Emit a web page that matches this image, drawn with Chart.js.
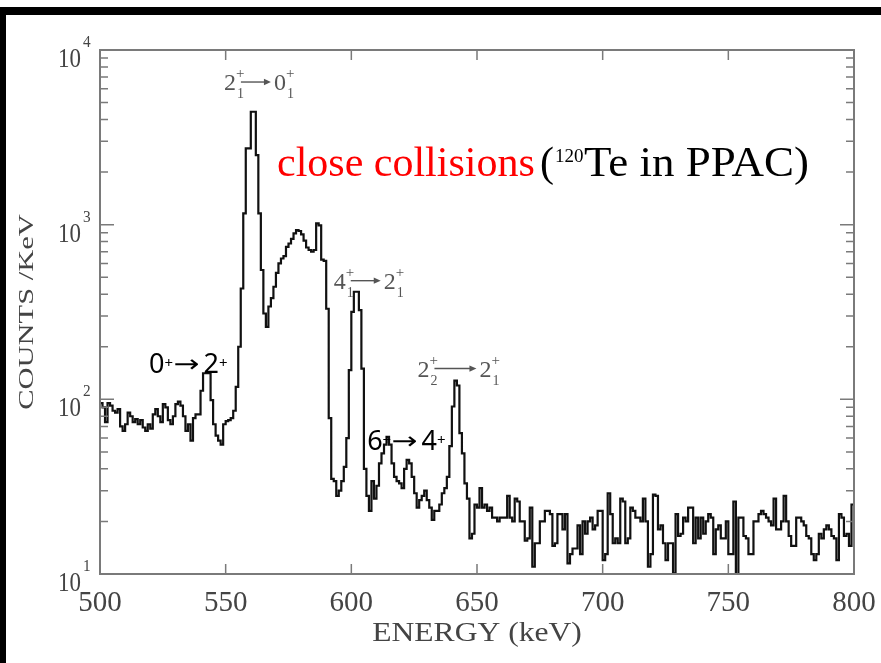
<!DOCTYPE html>
<html><head><meta charset="utf-8">
<script src="https://cdn.jsdelivr.net/npm/chart.js@4.4.1/dist/chart.umd.min.js"></script>
<style>html,body{margin:0;padding:0;background:#fff;} canvas{display:block;}</style>
</head><body>
<canvas id="c" width="881" height="663"></canvas>
<script>
// ---- data ----
const energyStart = 500;   // keV, left edge of first bin
const binWidth = 1;        // keV
const counts = [
  95,90,74,95,92,86,84,88,70,66,
  72,84,80,74,77,72,76,69,66,72,
  68,82,88,80,74,94,90,76,72,80,
  94,97,92,80,66,72,58,78,82,82,
  112,141,141,141,99,72,62,58,55,72,
  75,76,78,86,118,200,431,1160,2735,2735,
  4430,4430,2500,1160,550,310,260,340,380,441,
  530,600,640,660,747,780,830,891,931,920,
  880,810,740,716,700,716,1016,990,630,620,
  330,78,35,34,28,30,34,41,60,147,
  317,413,413,324,150,40,28,23,34,27,
  32,43,49,55,61,55,43,36,34,33,
  31,40,45,43,36,29,24,26.5,28,30,
  26.5,24,20.4,23,23,25,29,31,36,54,
  91,128,120,64,49,33,27,16,17,25,
  24,31,24,25,23,24,21,21,20,21,
  21,21,28,21,20,27,26,20,20,15.5,
  16,24,11,15,15,20,20,23,23,22,
  14.5,15,22,22,18,22,11.5,13,14,14,
  19,13,20,17,20,21,18,19,23,23,
  12,13,29,22,15,16,15,27,26,15,
  16,24,23,21,21,20,27,20,11,13,
  28.5,28,18,19,15,12,15,15,10.1,22,
  16.5,17,21,20,24,24,15,21,16,21,
  17,20,22,21,13,18,19,16,16,20,
  13,13,26,10,21,21,16.5,16,13,13,
  20,20,22,23,22,21,20,19,27,18,
  18,20,28,20,16.5,14.5,14.5,21,21,20,
  19,16.5,16,13,12,13,17,16,18,19,
  18,16.5,16,12,22,21,16.5,17,14.5,25
];
const xTickValues = [500,550,600,650,700,750,800];
const yDecades = [10,100,1000,10000];
const xTitle = 'ENERGY (keV)';
const yTitle = 'COUNTS /KeV';
const titleMain = 'close collisions';
const titleNote = ['(', '120', 'Te in PPAC)'];

// ---- build ----
const points = counts.map((c,i)=>({x: energyStart + i*binWidth, y: c}));
points.push({x: energyStart + counts.length*binWidth, y: counts[counts.length-1]});

const SERIF = '"Liberation Serif", "Times New Roman", serif';
const SANS = '"Noto Sans", "DejaVu Sans", sans-serif';
const ARROWFONT = '"DejaVu Sans", sans-serif';

function txt(ctx, s, x, y, size, family, color, align, sx, sy) {
  ctx.save();
  ctx.font = size + 'px ' + family;
  ctx.fillStyle = color;
  ctx.textAlign = align || 'left';
  ctx.textBaseline = 'alphabetic';
  ctx.translate(x, y);
  ctx.scale(sx || 1, sy || 1);
  ctx.fillText(s, 0, 0);
  ctx.restore();
}
function textW(ctx, s, size, family) {
  ctx.save(); ctx.font = size + 'px ' + family; const w = ctx.measureText(s).width; ctx.restore(); return w;
}
function arrowLine(ctx, x1, x2, y, color, lw, head) {
  ctx.save();
  ctx.strokeStyle = color; ctx.fillStyle = color; ctx.lineWidth = lw;
  ctx.beginPath(); ctx.moveTo(x1, y); ctx.lineTo(x2 - head + 1, y); ctx.stroke();
  ctx.beginPath(); ctx.moveTo(x2, y); ctx.lineTo(x2 - head, y - head*0.45); ctx.lineTo(x2 - head, y + head*0.45); ctx.closePath(); ctx.fill();
  ctx.restore();
}
function stretchedArrow(ctx, x, y, w, size, color) {
  const nat = textW(ctx, '\u2192', size, ARROWFONT);
  txt(ctx, '\u2192', x, y, size, ARROWFONT, color, 'left', w / nat, 1);
}
// Grace-style transition label  a_sa^+ -> b_sb^+
function graceLabel(ctx, x, base, a, sa, b, sb, arrowLen) {
  const c = '#555', big = 24, small = 15;
  const wa = textW(ctx, a, big, SERIF);
  txt(ctx, a, x, base, big, SERIF, c);
  txt(ctx, '+', x + wa, base - 12, small, SERIF, c);
  txt(ctx, sa, x + wa + 1, base + 8, small - 1, SERIF, c);
  const ax = x + wa + 5;
  arrowLine(ctx, ax, ax + arrowLen, base - 8, c, 1.4, 7);
  const bx = ax + arrowLen + 3;
  const wb = textW(ctx, b, big, SERIF);
  txt(ctx, b, bx, base, big, SERIF, c);
  txt(ctx, '+', bx + wb, base - 12, small, SERIF, c);
  txt(ctx, sb, bx + wb + 1, base + 8, small - 1, SERIF, c);
}
function sansLabel(ctx, x, base, a, b) {
  const c = '#000', big = 27, small = 15;
  const wa = textW(ctx, a, big, SANS);
  txt(ctx, a, x, base, big, SANS, c);
  txt(ctx, '+', x + wa, base - 5, small, SANS, c);
  const ax = x + wa + 9;
  stretchedArrow(ctx, ax, base - 1, 26, 24, c);
  const bx = ax + 30;
  const wb = textW(ctx, b, big, SANS);
  txt(ctx, b, bx, base, big, SANS, c);
  txt(ctx, '+', bx + wb, base - 5, small, SANS, c);
}

const decorPlugin = {
  id: 'decor',
  beforeDraw(chart) {
    const ctx = chart.ctx;
    ctx.save();
    ctx.fillStyle = '#fff'; ctx.fillRect(0, 0, chart.width, chart.height);
    ctx.fillStyle = '#000';
    ctx.fillRect(0, 7, chart.width, 8);
    ctx.fillRect(0, 7, 6, chart.height - 7);
    ctx.restore();
  },
  afterDatasetsDraw(chart) {
    const ctx = chart.ctx, a = chart.chartArea, xs = chart.scales.x, ys = chart.scales.y;
    const gray = '#7a7a7a';
    ctx.save();
    ctx.strokeStyle = gray; ctx.lineWidth = 2;
    ctx.strokeRect(a.left, a.top, a.right - a.left, a.bottom - a.top);
    ctx.lineWidth = 1.5;
    ctx.beginPath();
    // x ticks (inward, bottom and top)
    xs.ticks.forEach(t => {
      const px = xs.getPixelForValue(t.value);
      ctx.moveTo(px, a.bottom); ctx.lineTo(px, a.bottom - 10);
      ctx.moveTo(px, a.top); ctx.lineTo(px, a.top + 10);
    });
    // y log ticks (inward, left and right)
    for (let d = 0; d < yDecades.length - 1; d++) {
      for (let m = 1; m <= 9; m++) {
        const v = yDecades[d] * m;
        const py = ys.getPixelForValue(v);
        const len = m === 1 ? 14 : 8;
        ctx.moveTo(a.left, py); ctx.lineTo(a.left + len, py);
        ctx.moveTo(a.right, py); ctx.lineTo(a.right - len, py);
      }
    }
    ctx.stroke();
    ctx.restore();

    // y tick labels 10^n
    yDecades.forEach(d => {
      const py = ys.getPixelForValue(d);
      const e = String(Math.round(Math.log10(d)));
      txt(ctx, '10', 81, py + 17, 27, SERIF, '#444', 'right', 0.85, 1);
      txt(ctx, e, 83, py - 3, 17, SERIF, '#444', 'left', 0.9, 1);
    });

    // axis titles
    txt(ctx, xTitle, 477, 641, 27, SERIF, '#444', 'center', 1.17, 1);
    ctx.save();
    ctx.translate(33, 312);
    ctx.rotate(-Math.PI / 2);
    txt(ctx, yTitle, 0, 0, 21, SERIF, '#444', 'center', 1.45, 1);
    ctx.restore();

    // headline
    txt(ctx, titleMain, 277, 176, 42, SERIF, '#ff0000');
    txt(ctx, titleNote[0], 540, 176, 42, SERIF, '#000');
    txt(ctx, titleNote[1], 555, 162, 19, SERIF, '#000');
    txt(ctx, titleNote[2], 584, 176, 42, SERIF, '#000', 'left', 1.07, 1);

    // transition labels (positions in data coordinates)
    const P = (e, c) => [xs.getPixelForValue(e), ys.getPixelForValue(c)];
    let p;
    p = P(549.3, 5900); graceLabel(ctx, p[0], p[1], '2', '1', '0', '1', 30);
    p = P(593.0, 430);  graceLabel(ctx, p[0], p[1], '4', '1', '2', '1', 30);
    p = P(626.3, 135);  graceLabel(ctx, p[0], p[1], '2', '2', '2', '1', 42);
    p = P(519.5, 142);  sansLabel(ctx, p[0], p[1], '0', '2');
    p = P(606.3, 51);   sansLabel(ctx, p[0], p[1], '6', '4');
  }
};

new Chart(document.getElementById('c'), {
  type: 'line',
  data: { datasets: [{
    data: points,
    stepped: true,
    borderColor: '#111',
    borderWidth: 2.2,
    pointRadius: 0,
    fill: false,
    tension: 0
  }]},
  options: {
    responsive: false,
    devicePixelRatio: 1,
    animation: false,
    layout: { padding: { top: 50, right: 27, left: 0, bottom: 0 } },
    plugins: { legend: { display: false }, tooltip: { enabled: false } },
    scales: {
      x: {
        type: 'linear', min: 500, max: 800,
        afterBuildTicks: s => { s.ticks = xTickValues.map(v => ({ value: v })); },
        afterFit: s => { s.height = 89; s.paddingLeft = 0; s.paddingRight = 0; },
        ticks: { font: { family: SERIF, size: 29 }, color: '#444', padding: 12, maxRotation: 0, autoSkip: false },
        grid: { display: false, drawTicks: false },
        border: { display: false }
      },
      y: {
        type: 'logarithmic', min: 10, max: 10000,
        afterFit: s => { s.width = 100; s.paddingTop = 0; s.paddingBottom = 0; },
        ticks: { display: false },
        grid: { display: false, drawTicks: false },
        border: { display: false }
      }
    }
  },
  plugins: [decorPlugin]
});
</script>
</body></html>
